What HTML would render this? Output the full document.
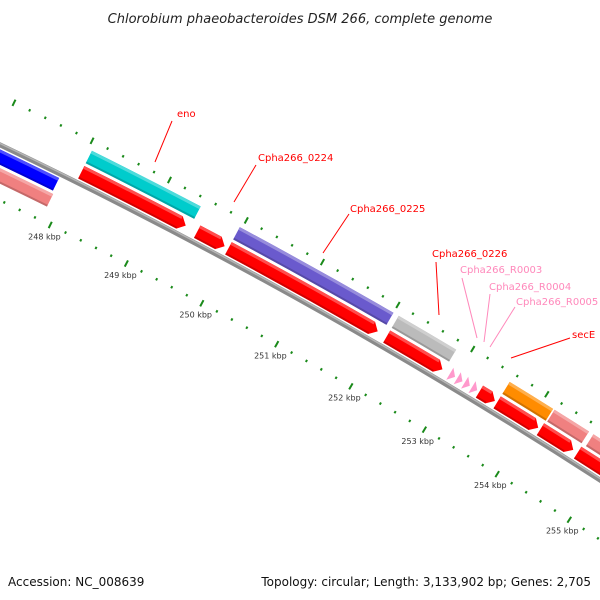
<!DOCTYPE html>
<html><head><meta charset="utf-8"><style>
html,body{margin:0;padding:0;background:#fff;}
svg{display:block;}
text{font-family:"DejaVu Sans","Liberation Sans",sans-serif;}
</style></head><body>
<svg id="map" width="600" height="600" viewBox="0 0 600 600" xmlns="http://www.w3.org/2000/svg">
<text x="300" y="23" text-anchor="middle" font-size="13" font-style="italic" fill="#222">Chlorobium phaeobacteroides DSM 266, complete genome</text>
<g id="ticks"></g>
<g id="backbone"></g>
<g id="features"></g>
<g id="labels"></g>
<text x="8" y="586" font-size="12" fill="#111">Accession: NC_008639</text>
<text x="591" y="586" text-anchor="end" font-size="12" fill="#111">Topology: circular; Length: 3,133,902 bp; Genes: 2,705</text>
</svg>
<script>
// data (kbp)
const featStart = [244.0, 244.0, 248.05, 248.05, 249.56, 249.97, 249.97, 252.07, 252.07, 252.92, 253.02, 253.12, 253.22, 253.32, 253.56, 253.56, 254.17, 254.15, 254.70, 254.66];
const featEnd   = [247.85, 247.87, 249.46, 249.41, 249.92, 252.00, 251.95, 252.84, 252.82, 252.99, 253.09, 253.19, 253.29, 253.53, 254.15, 254.12, 254.64, 254.60, 257.0, 257.0];
const featTrack = [-1, -2, 2, 1, 1, 2, 1, 2, 1, 1, 1, 1, 1, 1, 2, 1, 2, 1, 2, 1];
const featColor = ["#0000ff","#f08080","#00cccc","#ff0000","#ff0000","#6a5acd","#ff0000","#bbbbbb","#ff0000","#ff99cc","#ff99cc","#ff99cc","#ff99cc","#ff0000","#ff8c00","#ff0000","#f08080","#ff0000","#f08080","#ff0000"];
const featArrow = [0,0,0,1,1,0,1,0,1,2,2,2,2,1,0,1,0,1,0,1];
const tickKbpMin = 244, tickKbpMax = 257;
const labelText  = ["eno","Cpha266_0224","Cpha266_0225","Cpha266_0226","Cpha266_R0003","Cpha266_R0004","Cpha266_R0005","secE"];
const labelColor = ["#ff0000","#ff0000","#ff0000","#ff0000","#ff88bb","#ff88bb","#ff88bb","#ff0000"];
const labelPos = [[177,117],[258,161],[350,212],[432,257],[460,273],[489,290],[516,305],[572,338]];
const labelLine = [[172,121,155,162],[256,165,234,202],[349,214,323,253],[436,262,439,315],[462,278,477,338],[490,294,484,342],[515,307,490,347],[570,338,511,358]];

const NS="http://www.w3.org/2000/svg";
const cx=-2333, cy=5026, R0=5410;
function ang(k){return (-63.6+0.912*(k-248))*Math.PI/180;}
function pt(r,k){const a=ang(k);return [cx+r*Math.cos(a), cy+r*Math.sin(a)];}
function f(p){return p[0].toFixed(2)+","+p[1].toFixed(2);}
function mk(tag,attrs,parent){const e=document.createElementNS(NS,tag);for(const k in attrs)e.setAttribute(k,attrs[k]);parent.appendChild(e);return e;}

// ticks every 0.2 kbp
const tg=document.getElementById('ticks');
for(let i=Math.round(tickKbpMin*5);i<=Math.round(tickKbpMax*5);i++){
  const k=i/5, major=(i%5===0);
  [R0+44,R0-50].forEach((r)=>{
    const len=major?7:2.5;
    const a=pt(r-len/2,k), b=pt(r+len/2,k);
    const l=mk('line',{x1:a[0],y1:a[1],x2:b[0],y2:b[1],stroke:'#1a8a1a','stroke-width':2},tg);
    
    
  });
  if(major){
    const p=pt(R0-63,k);
    const t=mk('text',{x:p[0],y:p[1]+3,'text-anchor':'middle','font-size':'8',fill:'#333'},tg);
    t.textContent=k+" kbp";
    
    
  }
}

// backbone
const bg=document.getElementById('backbone');
function arcPath(r,k1,k2){const a=pt(r,k1),b=pt(r,k2);return "M"+f(a)+" A"+r+" "+r+" 0 0 1 "+f(b);}
const bb=mk('path',{d:arcPath(R0,243,258),fill:'none',stroke:'#8a8a8a','stroke-width':5},bg);


const bh=mk('path',{d:arcPath(R0+1.3,243,258),fill:'none',stroke:'#b5b5b5','stroke-width':1.5},bg);



// features
const fg=document.getElementById('features');
function trackR(t){const s=t>0?1:-1, n=Math.abs(t);const inner=4+(n-1)*17, outer=inner+14;return s>0?[R0+inner,R0+outer]:[R0-outer,R0-inner];}
function lighten(c,amt){const n=parseInt(c.slice(1),16);let r=n>>16,g=(n>>8)&255,b=n&255;r=Math.round(r+(255-r)*amt);g=Math.round(g+(255-g)*amt);b=Math.round(b+(255-b)*amt);return "rgb("+r+","+g+","+b+")";}
const headK=7/(R0*0.912*Math.PI/180);
for(let i=0;i<featStart.length;i++){
  const [r1,r2]=trackR(featTrack[i]);const k1=featStart[i],k2=featEnd[i];
  const rm=(r1+r2)/2;
  let d;
  if(featArrow[i]===2){
    d="M"+f(pt(r2,k1))+" L"+f(pt(rm,k2))+" L"+f(pt(r1,k1))+" Z";
  } else if(featArrow[i]===1){
    const kb=Math.max(k1,k2-headK);
    d="M"+f(pt(r2,k1))+" A"+r2+" "+r2+" 0 0 1 "+f(pt(r2,kb))+" L"+f(pt(rm,k2))+" L"+f(pt(r1,kb))+" A"+r1+" "+r1+" 0 0 0 "+f(pt(r1,k1))+" Z";
  } else {
    d="M"+f(pt(r2,k1))+" A"+r2+" "+r2+" 0 0 1 "+f(pt(r2,k2))+" L"+f(pt(r1,k2))+" A"+r1+" "+r1+" 0 0 0 "+f(pt(r1,k1))+" Z";
  }
  const p=mk('path',{d:d,fill:featColor[i]},fg);
  
  
  if(featArrow[i]!==2){
    const kb=featArrow[i]===1?Math.max(k1,k2-headK):k2;
    const h=mk('path',{d:arcPath(r2-1.5,k1,kb),fill:'none',stroke:lighten(featColor[i],0.3),'stroke-width':3},fg);
    
    
    const s=mk('path',{d:arcPath(r1+1,k1,kb),fill:'none',stroke:'rgba(0,0,0,0.18)','stroke-width':2},fg);
    
    
  }
}

// labels
const lg=document.getElementById('labels');
for(let i=0;i<labelText.length;i++){
  const L=labelLine[i];
  const l=mk('line',{x1:L[0],y1:L[1],x2:L[2],y2:L[3],stroke:labelColor[i],'stroke-width':1},lg);
  
  
  const t=mk('text',{x:labelPos[i][0],y:labelPos[i][1],'font-size':'10',fill:labelColor[i]},lg);
  t.textContent=labelText[i];
  
  
}
</script>
</body></html>
